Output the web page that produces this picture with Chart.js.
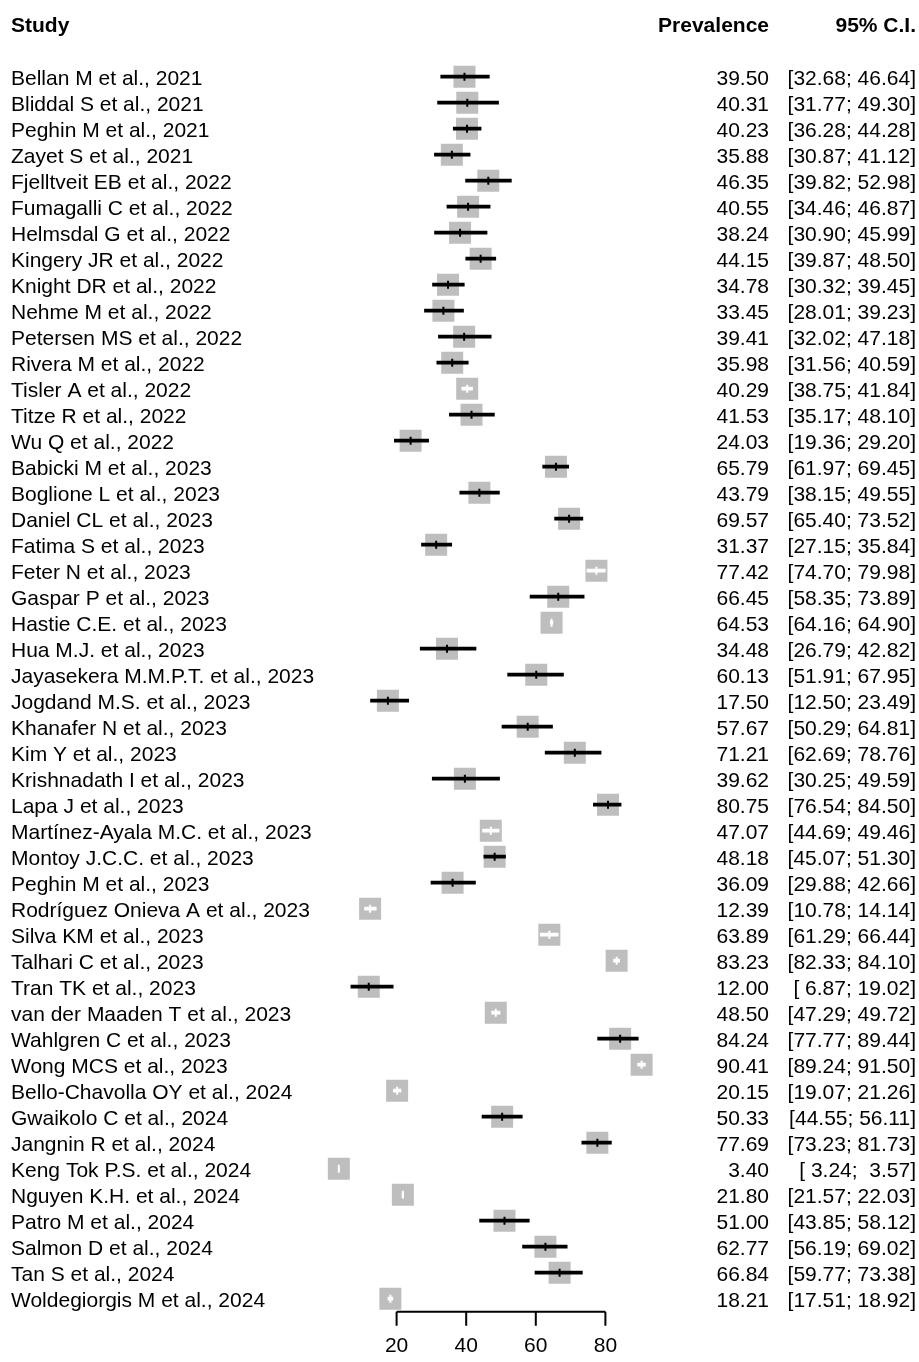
<!DOCTYPE html>
<html>
<head>
<meta charset="utf-8">
<title>Prevalence forest plot</title>
<script src="https://cdn.jsdelivr.net/npm/chart.js@4/dist/chart.umd.min.js"></script>
<style>
  html, body { margin: 0; padding: 0; background: #ffffff; }
  canvas { display: block; }
</style>
</head>
<body>
<canvas id="forest" width="919" height="1362"></canvas>
<script>
// Study labels (top to bottom)
const studies = [
  "Bellan M et al., 2021", "Bliddal S et al., 2021", "Peghin M et al., 2021", "Zayet S et al., 2021",
  "Fjelltveit EB et al., 2022", "Fumagalli C et al., 2022", "Helmsdal G et al., 2022", "Kingery JR et al., 2022",
  "Knight DR et al., 2022", "Nehme M et al., 2022", "Petersen MS et al., 2022", "Rivera M et al., 2022",
  "Tisler A et al., 2022", "Titze R et al., 2022", "Wu Q et al., 2022", "Babicki M et al., 2023",
  "Boglione L et al., 2023", "Daniel CL et al., 2023", "Fatima S et al., 2023", "Feter N et al., 2023",
  "Gaspar P et al., 2023", "Hastie C.E. et al., 2023", "Hua M.J. et al., 2023", "Jayasekera M.M.P.T. et al., 2023",
  "Jogdand M.S. et al., 2023", "Khanafer N et al., 2023", "Kim Y et al., 2023", "Krishnadath I et al., 2023",
  "Lapa J et al., 2023", "Martínez-Ayala M.C. et al., 2023", "Montoy J.C.C. et al., 2023", "Peghin M et al., 2023",
  "Rodríguez Onieva A et al., 2023", "Silva KM et al., 2023", "Talhari C et al., 2023", "Tran TK et al., 2023",
  "van der Maaden T et al., 2023", "Wahlgren C et al., 2023", "Wong MCS et al., 2023", "Bello-Chavolla OY et al., 2024",
  "Gwaikolo C et al., 2024", "Jangnin R et al., 2024", "Keng Tok P.S. et al., 2024", "Nguyen K.H. et al., 2024",
  "Patro M et al., 2024", "Salmon D et al., 2024", "Tan S et al., 2024", "Woldegiorgis M et al., 2024"
];

// Prevalence estimates (%)
const prevalence = [
  39.50, 40.31, 40.23, 35.88, 46.35, 40.55, 38.24, 44.15, 34.78, 33.45, 39.41, 35.98,
  40.29, 41.53, 24.03, 65.79, 43.79, 69.57, 31.37, 77.42, 66.45, 64.53, 34.48, 60.13,
  17.50, 57.67, 71.21, 39.62, 80.75, 47.07, 48.18, 36.09, 12.39, 63.89, 83.23, 12.00,
  48.50, 84.24, 90.41, 20.15, 50.33, 77.69, 3.40, 21.80, 51.00, 62.77, 66.84, 18.21
];

// Lower 95% confidence limits
const ciLower = [
  32.68, 31.77, 36.28, 30.87, 39.82, 34.46, 30.90, 39.87, 30.32, 28.01, 32.02, 31.56,
  38.75, 35.17, 19.36, 61.97, 38.15, 65.40, 27.15, 74.70, 58.35, 64.16, 26.79, 51.91,
  12.50, 50.29, 62.69, 30.25, 76.54, 44.69, 45.07, 29.88, 10.78, 61.29, 82.33, 6.87,
  47.29, 77.77, 89.24, 19.07, 44.55, 73.23, 3.24, 21.57, 43.85, 56.19, 59.77, 17.51
];

// Upper 95% confidence limits
const ciUpper = [
  46.64, 49.30, 44.28, 41.12, 52.98, 46.87, 45.99, 48.50, 39.45, 39.23, 47.18, 40.59,
  41.84, 48.10, 29.20, 69.45, 49.55, 73.52, 35.84, 79.98, 73.89, 64.90, 42.82, 67.95,
  23.49, 64.81, 78.76, 49.59, 84.50, 49.46, 51.30, 42.66, 14.14, 66.44, 84.10, 19.02,
  49.72, 89.44, 91.50, 21.26, 56.11, 81.73, 3.57, 22.03, 58.12, 69.02, 73.38, 18.92
];

// Axis tick values
const axisTicks = [20, 40, 60, 80];

const FONT = '"Liberation Sans", Arial, Helvetica, sans-serif';
const BOX = 22;            // side of the grey study square, px
const BOX_GREY = '#bebebe';

// Confidence interval drawn white when it sits well inside the square
function ciColor(ctx) {
  const i = ctx.dataIndex;
  const x = ctx.chart.scales.x;
  const w = x.getPixelForValue(ciUpper[i]) - x.getPixelForValue(ciLower[i]);
  return w < BOX - 2 ? '#ffffff' : '#000000';
}

function fmt(v) {
  const s = v.toFixed(2);
  return s.length < 5 ? ' ' + s : s;
}

const forestText = {
  id: 'forestText',
  afterDraw(chart) {
    const ctx = chart.ctx;
    const x = chart.scales.x;
    const y = chart.scales.y;
    ctx.save();
    ctx.fillStyle = '#000000';

    // Column headers
    ctx.font = 'bold 21px ' + FONT;
    ctx.textAlign = 'left';
    ctx.textBaseline = 'alphabetic';
    ctx.fillText('Study', 11, 32);
    ctx.textAlign = 'right';
    ctx.fillText('Prevalence', 769, 32);
    ctx.fillText('95% C.I.', 916, 32);

    // Row texts
    ctx.font = '21px ' + FONT;
    studies.forEach((name, i) => {
      const yc = y.getPixelForValue(i) + 8;
      ctx.textAlign = 'left';
      ctx.fillText(name, 11, yc);
      ctx.textAlign = 'right';
      ctx.fillText(prevalence[i].toFixed(2), 769, yc);
      ctx.fillText('[' + fmt(ciLower[i]) + '; ' + fmt(ciUpper[i]) + ']', 916, yc);
    });

    // Bottom axis spanning the tick range
    const yAxis = chart.chartArea.bottom;
    const x0 = x.getPixelForValue(axisTicks[0]);
    const x1 = x.getPixelForValue(axisTicks[axisTicks.length - 1]);
    ctx.strokeStyle = '#000000';
    ctx.lineWidth = 2;
    ctx.beginPath();
    ctx.moveTo(x0, yAxis);
    ctx.lineTo(x1, yAxis);
    axisTicks.forEach(t => {
      const px = x.getPixelForValue(t);
      ctx.moveTo(px, yAxis);
      ctx.lineTo(px, yAxis + 14);
    });
    ctx.stroke();
    ctx.textAlign = 'center';
    ctx.font = '21px ' + FONT;
    axisTicks.forEach(t => {
      ctx.fillText(String(t), x.getPixelForValue(t), yAxis + 40);
    });
    ctx.restore();
  }
};

new Chart(document.getElementById('forest'), {
  type: 'bar',
  data: {
    labels: studies,
    datasets: [
      {
        type: 'line',
        label: 'Estimate tick',
        data: prevalence,
        showLine: false,
        pointStyle: 'line',
        rotation: 90,
        pointRadius: 4,
        pointBorderWidth: 2,
        pointBorderColor: ciColor,
        pointBackgroundColor: ciColor,
        order: 0
      },
      {
        type: 'bar',
        label: '95% C.I.',
        data: ciLower.map((lo, i) => [lo, ciUpper[i]]),
        backgroundColor: ciColor,
        borderWidth: 0,
        barThickness: 3,
        borderSkipped: false,
        order: 1
      },
      {
        type: 'line',
        label: 'Prevalence',
        data: prevalence,
        showLine: false,
        pointStyle: 'rect',
        pointRadius: BOX / (2 * Math.SQRT1_2),
        pointBorderWidth: 0,
        pointBackgroundColor: BOX_GREY,
        order: 2
      }
    ]
  },
  options: {
    indexAxis: 'y',
    responsive: false,
    animation: false,
    events: [],
    layout: {
      padding: { left: 327, right: 244, top: 63.7, bottom: 50.3 }
    },
    scales: {
      x: { type: 'linear', min: 0, max: 100, display: false },
      y: { type: 'category', offset: true, display: false }
    },
    plugins: {
      legend: { display: false },
      tooltip: { enabled: false }
    }
  },
  plugins: [forestText]
});
</script>
</body>
</html>
